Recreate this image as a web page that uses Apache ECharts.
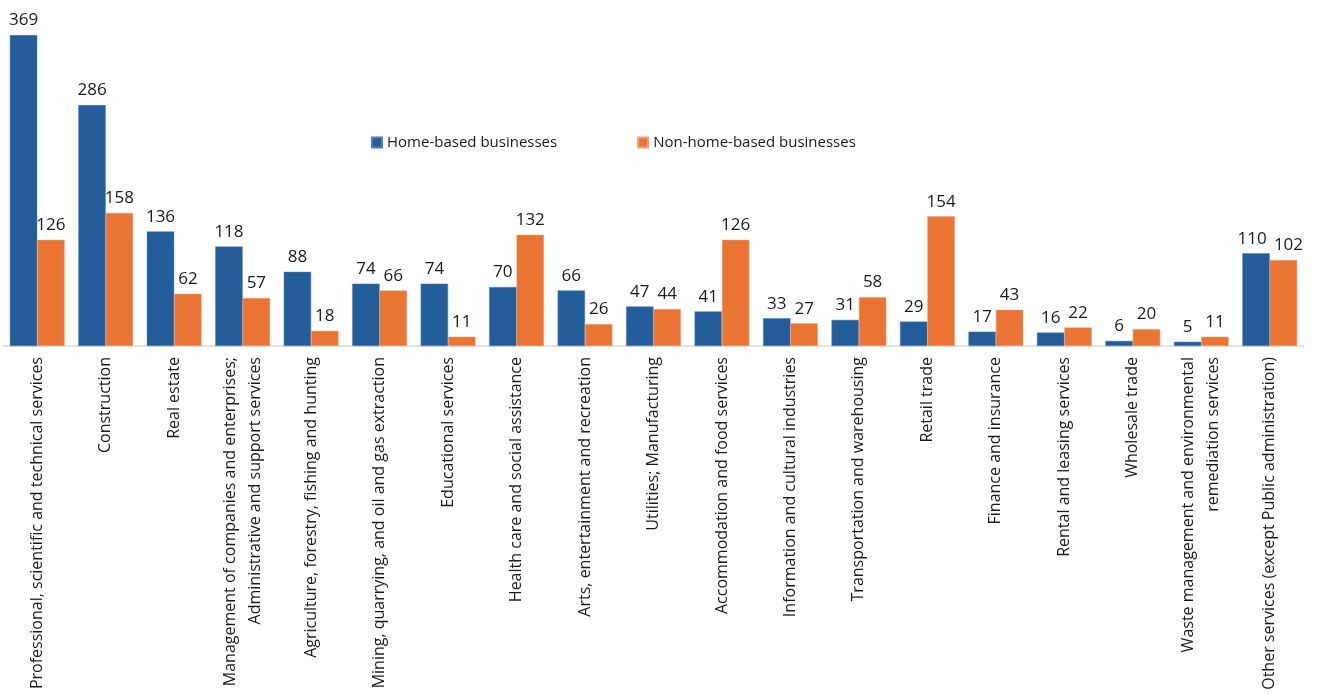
<!DOCTYPE html>
<html>
<head>
<meta charset="utf-8">
<script src="https://cdn.jsdelivr.net/npm/echarts@6/dist/echarts.min.js"></script>
<style>
  html, body { margin: 0; padding: 0; background: #ffffff; }
  #chart { width: 1317px; height: 694px; }
</style>
</head>
<body>
<div id="chart"></div>
<script>
// Industry categories (line breaks are part of the axis label text)
const categories = [
  'Professional, scientific and technical services',
  'Construction',
  'Real estate',
  'Management of companies and enterprises;\nAdministrative and support services',
  'Agriculture, forestry, fishing and hunting',
  'Mining, quarrying, and oil and gas extraction',
  'Educational services',
  'Health care and social assistance',
  'Arts, entertainment and recreation',
  'Utilities; Manufacturing',
  'Accommodation and food services',
  'Information and cultural industries',
  'Transportation and warehousing',
  'Retail trade',
  'Finance and insurance',
  'Rental and leasing services',
  'Wholesale trade',
  'Waste management and environmental\nremediation services',
  'Other services (except Public administration)'
];

const homeBased = [369, 286, 136, 118, 88, 74, 74, 70, 66, 47, 41, 33, 31, 29, 17, 16, 6, 5, 110];
const nonHomeBased = [126, 158, 62, 57, 18, 66, 11, 132, 26, 44, 126, 27, 58, 154, 43, 22, 20, 11, 102];

const FONT = '"Open Sans", "Noto Sans", sans-serif';
const BLUE = '#235e9a';
const ORANGE = '#e97434';

const chart = echarts.init(document.getElementById('chart'));

const valueLabel = {
  show: true,
  position: 'top',
  distance: 6,
  color: '#1a1a1a',
  fontFamily: FONT,
  fontSize: 17
};

// Nudge the two labels of the last group apart so they do not touch
function withLabelNudge(values, dx) {
  return values.map((v, i) =>
    i === values.length - 1 ? { value: v, label: { offset: [dx, 0] } } : v
  );
}

chart.setOption({
  animation: false,
  textStyle: { fontFamily: FONT },
  legend: {
    left: 371,
    top: 135,
    padding: 0,
    itemWidth: 10,
    itemHeight: 10,
    itemGap: 80,
    icon: 'rect',
    textStyle: { fontFamily: FONT, fontSize: 15, color: '#1a1a1a' },
    data: ['Home-based businesses', 'Non-home-based businesses']
  },
  grid: { left: 3, right: 13, top: 9, bottom: 348, containLabel: false },
  xAxis: {
    type: 'category',
    data: categories,
    axisLine: { show: true, lineStyle: { color: '#d9d9d9', width: 1.5 } },
    axisTick: { show: false },
    axisLabel: {
      interval: 0,
      rotate: 90,
      margin: 11,
      align: 'right',
      verticalAlign: 'middle',
      color: '#1a1a1a',
      fontFamily: FONT,
      fontSize: 16,
      lineHeight: 25
    }
  },
  yAxis: {
    type: 'value',
    min: 0,
    max: 400,
    show: false,
    splitLine: { show: false }
  },
  series: [
    {
      name: 'Home-based businesses',
      type: 'bar',
      data: withLabelNudge(homeBased, -4),
      barWidth: '40%',
      barGap: '0%',
      itemStyle: { color: BLUE, borderColor: '#4f7fb0', borderWidth: 0.5 },
      label: valueLabel
    },
    {
      name: 'Non-home-based businesses',
      type: 'bar',
      data: withLabelNudge(nonHomeBased, 5),
      barWidth: '40%',
      barGap: '0%',
      itemStyle: { color: ORANGE, borderColor: '#f2a071', borderWidth: 0.5 },
      label: valueLabel
    }
  ]
});
</script>
</body>
</html>
